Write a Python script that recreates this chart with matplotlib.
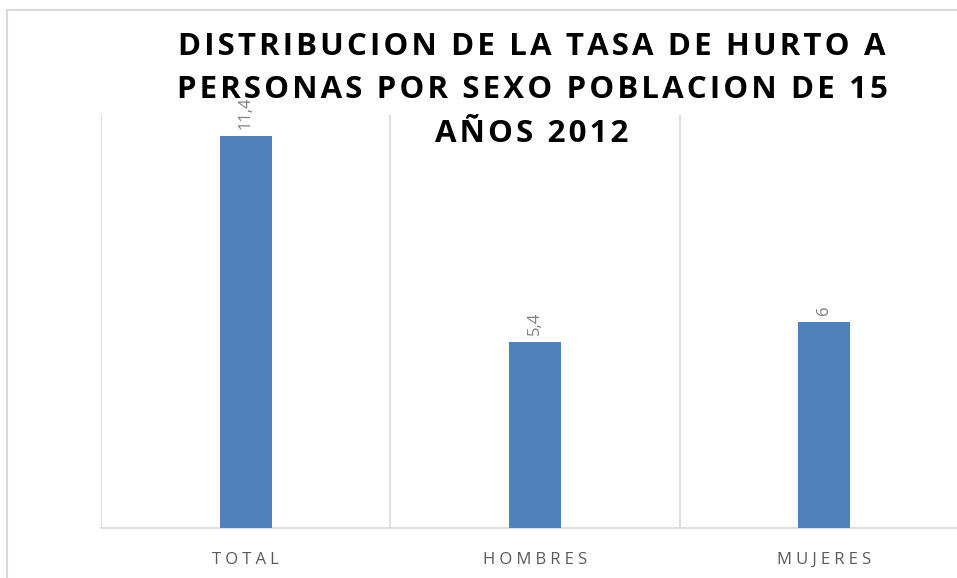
"""
Bar chart: distribucion de la tasa de hurto a personas por sexo
"""
import matplotlib
matplotlib.use('Agg')
import matplotlib.pyplot as plt
from matplotlib.patches import Rectangle

categorias = ['TOTAL', 'HOMBRES', 'MUJERES']
tasas = [11.4, 5.4, 6]
etiquetas = ['11,4', '5,4', '6']
titulo = ['DISTRIBUCION DE LA TASA DE HURTO A',
          'PERSONAS POR SEXO POBLACION DE 15',
          'AÑOS 2012']

plt.rcParams['font.family'] = ['Open Sans', 'DejaVu Sans']

bar_color = '#4F81BD'
text_gray = '#595959'
grid_gray = '#D9D9D9'


def espaciar(texto, sep):
    return sep.join(texto)


fig = plt.figure(figsize=(9.57, 5.78), dpi=100)
ax = fig.add_axes([101 / 957, 50 / 578, 868 / 957, 413 / 578])

x = list(range(len(categorias)))
ax.bar(x, tasas, width=0.18, color=bar_color, zorder=3)

for xi, val, lab in zip(x, tasas, etiquetas):
    ax.annotate(lab, (xi, val), xytext=(0, 5), textcoords='offset points',
                rotation=90, ha='center', va='bottom', fontsize=12,
                color='#7F7F7F', zorder=4)

ax.set_xlim(-0.5, 2.5)
ax.set_ylim(0, 12)
ax.set_yticks([])
ax.set_xticks(x, [espaciar(c, '\u2005') for c in categorias])
ax.tick_params(axis='x', length=0, pad=17, labelsize=12, labelcolor=text_gray)

# separadores entre categorias
for b in [-0.5, 0.5, 1.5, 2.5]:
    ax.axvline(b, color=grid_gray, linewidth=1.2, zorder=1)

for side in ['top', 'right', 'left']:
    ax.spines[side].set_visible(False)
ax.spines['bottom'].set_color(grid_gray)
ax.spines['bottom'].set_linewidth(1.2)

# borde del area del grafico
fig.patches.append(Rectangle((7 / 957, -0.1), 1.2, 1.1 - 10 / 578,
                             transform=fig.transFigure, fill=False,
                             edgecolor=grid_gray, linewidth=1.5))

# titulo, una linea por texto para controlar el interlineado
for linea, base in zip(titulo, [55, 98, 142]):
    fig.text(0.556, 1 - base / 578, espaciar(linea, '\u200a'),
             ha='center', va='baseline', fontsize=22.5, fontweight='bold',
             color='black', zorder=5)

plt.savefig('out.png', dpi=100)
